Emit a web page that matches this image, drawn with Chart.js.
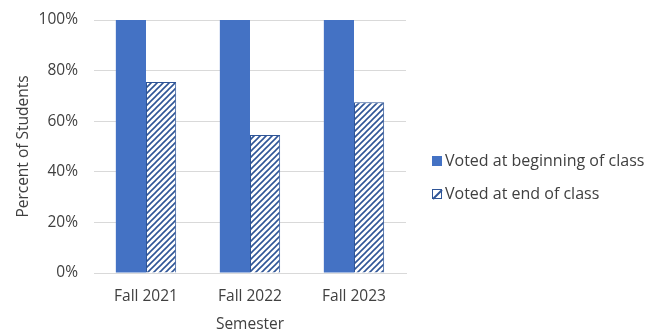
<!DOCTYPE html>
<html>
<head>
<meta charset="utf-8">
<script src="https://cdn.jsdelivr.net/npm/chart.js@4.4.1/dist/chart.umd.min.js"></script>
<style>
  html, body { margin: 0; padding: 0; background: #fff; }
  #wrap { width: 657px; height: 331px; }
</style>
</head>
<body>
<div id="wrap"><canvas id="c" width="657" height="331"></canvas></div>
<script>
// data
const semesters = ["Fall 2021", "Fall 2022", "Fall 2023"];
const votedBeginning = [100, 100, 100];
const votedEnd = [75.5, 54.5, 67.5];
const yTicks = [0, 20, 40, 60, 80, 100];

const FONT = "'Open Sans', 'Liberation Sans', sans-serif";
const BLUE = "#4472C4";
const DARK = "#2F5597";

// diagonal hatch for the second series
function makeHatch() {
    const s = 6;
    const cv = document.createElement("canvas");
    cv.width = s; cv.height = s;
    const g = cv.getContext("2d");
    g.fillStyle = "#fff";
    g.fillRect(0, 0, s, s);
    g.strokeStyle = DARK;
    g.lineWidth = 1.6;
    g.beginPath();
    g.moveTo(0, s); g.lineTo(s, 0);
    g.moveTo(-s / 2, s / 2); g.lineTo(s / 2, -s / 2);
    g.moveTo(s / 2, s * 1.5); g.lineTo(s * 1.5, s / 2);
    g.stroke();
    return g.createPattern(cv, "repeat");
}
const hatch = makeHatch();

// legend drawn to the right of the plot
const sideLegend = {
    id: "sideLegend",
    afterDraw(chart) {
        const ctx = chart.ctx;
        const items = chart.data.datasets;
        const x = 432, ys = [161, 194];
        ctx.save();
        ctx.font = "16px " + FONT;
        ctx.textBaseline = "middle";
        items.forEach((ds, i) => {
            const y = ys[i];
            if (i === 0) {
                ctx.fillStyle = ds.backgroundColor;
                ctx.fillRect(x, y - 5, 10, 10);
            } else {
                ctx.fillStyle = "#fff";
                ctx.fillRect(x, y - 5, 10, 10);
                ctx.strokeStyle = DARK;
                ctx.lineWidth = 1;
                ctx.strokeRect(x + 0.5, y - 4.5, 9, 9);
                ctx.beginPath();
                ctx.moveTo(x + 1, y + 5);
                ctx.lineTo(x + 10, y - 4);
                ctx.lineWidth = 2;
                ctx.stroke();
            }
            ctx.fillStyle = "#404040";
            ctx.fillText(ds.label, x + 13, y);
        });
        ctx.restore();
    }
};

new Chart(document.getElementById("c"), {
    type: "bar",
    data: {
        labels: semesters,
        datasets: [
            {
                label: "Voted at beginning of class",
                data: votedBeginning,
                backgroundColor: BLUE,
                borderWidth: 0
            },
            {
                label: "Voted at end of class",
                data: votedEnd,
                backgroundColor: hatch,
                borderColor: DARK,
                borderWidth: 1
            }
        ]
    },
    options: {
        responsive: false,
        animation: false,
        layout: { padding: { left: 10, right: 251, top: 20, bottom: 0 } },
        datasets: { bar: { categoryPercentage: 0.58, barPercentage: 1 } },
        plugins: {
            legend: { display: false },
            tooltip: { enabled: false }
        },
        scales: {
            x: {
                grid: { display: false, drawTicks: false },
                border: { color: "#d9d9d9" },
                ticks: { color: "#404040", font: { family: FONT, size: 15.5 }, padding: 14 },
                title: { display: true, text: "Semester", color: "#404040", font: { family: FONT, size: 15.5 }, padding: { top: 0, bottom: -3 } },
                afterFit(s) { s.height = 58; }
            },
            y: {
                min: 0, max: 100,
                afterBuildTicks(s) { s.ticks = yTicks.map(v => ({ value: v })); },
                grid: { color: "#d9d9d9", drawTicks: false },
                border: { display: false },
                ticks: {
                    color: "#404040",
                    font: { family: FONT, size: 15.5 },
                    padding: 16,
                    callback: v => v + "%"
                },
                title: { display: true, text: "Percent of Students", color: "#404040", font: { family: FONT, size: 15.5 }, padding: { bottom: 4 } },
                afterFit(s) {
                    s.width = 84;
                    // otherwise chart.js pushes the plot top down
                    s.paddingTop = 0;
                    s.paddingBottom = 0;
                }
            }
        }
    },
    plugins: [sideLegend]
});
</script>
</body>
</html>
